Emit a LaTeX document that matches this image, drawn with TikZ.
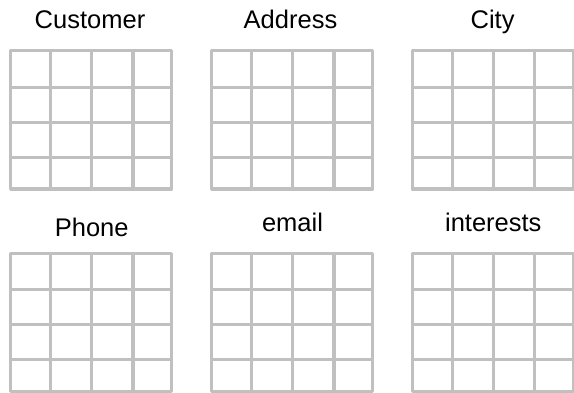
\documentclass[tikz,border=0pt]{standalone}
\usepackage{fontspec}
\setmainfont{Liberation Sans}
\definecolor{gridgray}{RGB}{192,192,192}
\tikzset{
  gridline/.style={draw=gridgray, line width=3.3pt, line join=round, line cap=rect},
  tablelabel/.style={anchor=base, inner sep=0pt, font=\fontsize{25.5}{30}\selectfont, text=black}
}
\newcommand{\tablegrid}[2]{%
  \draw[gridline, line join=round] (#1,#2) rectangle ++(161,138.3);
  \foreach \dx in {40,81,122.3} {\draw[gridline] (#1+\dx,#2) -- ++(0,138.3);}
  \foreach \dy in {36.5,71.5,106.5} {\draw[gridline] (#1,#2+\dy) -- ++(161,0);}
}
\begin{document}
\begin{tikzpicture}[x=1pt,y=-1pt]
\useasboundingbox[fill=white] (0,0) rectangle (574,392);
\clip (0,0) rectangle (574,392);
\tablegrid{10.7}{50.7}
\tablegrid{211.7}{50.7}
\tablegrid{412.3}{50.7}
\tablegrid{10.7}{253.3}
\tablegrid{211.7}{253.3}
\tablegrid{412.3}{253.3}
\node[tablelabel] (customer) at (90,28.8) {Customer};
\node[tablelabel] (address) at (290.5,28.5) {Address};
\node[tablelabel] (city) at (492.6,28.5) {City};
\node[tablelabel] (phone) at (91.7,236.7) {Phone};
\node[tablelabel] (email) at (292.5,231) {email};
\node[tablelabel] (interests) at (493.3,231) {interests};
\end{tikzpicture}
\end{document}
